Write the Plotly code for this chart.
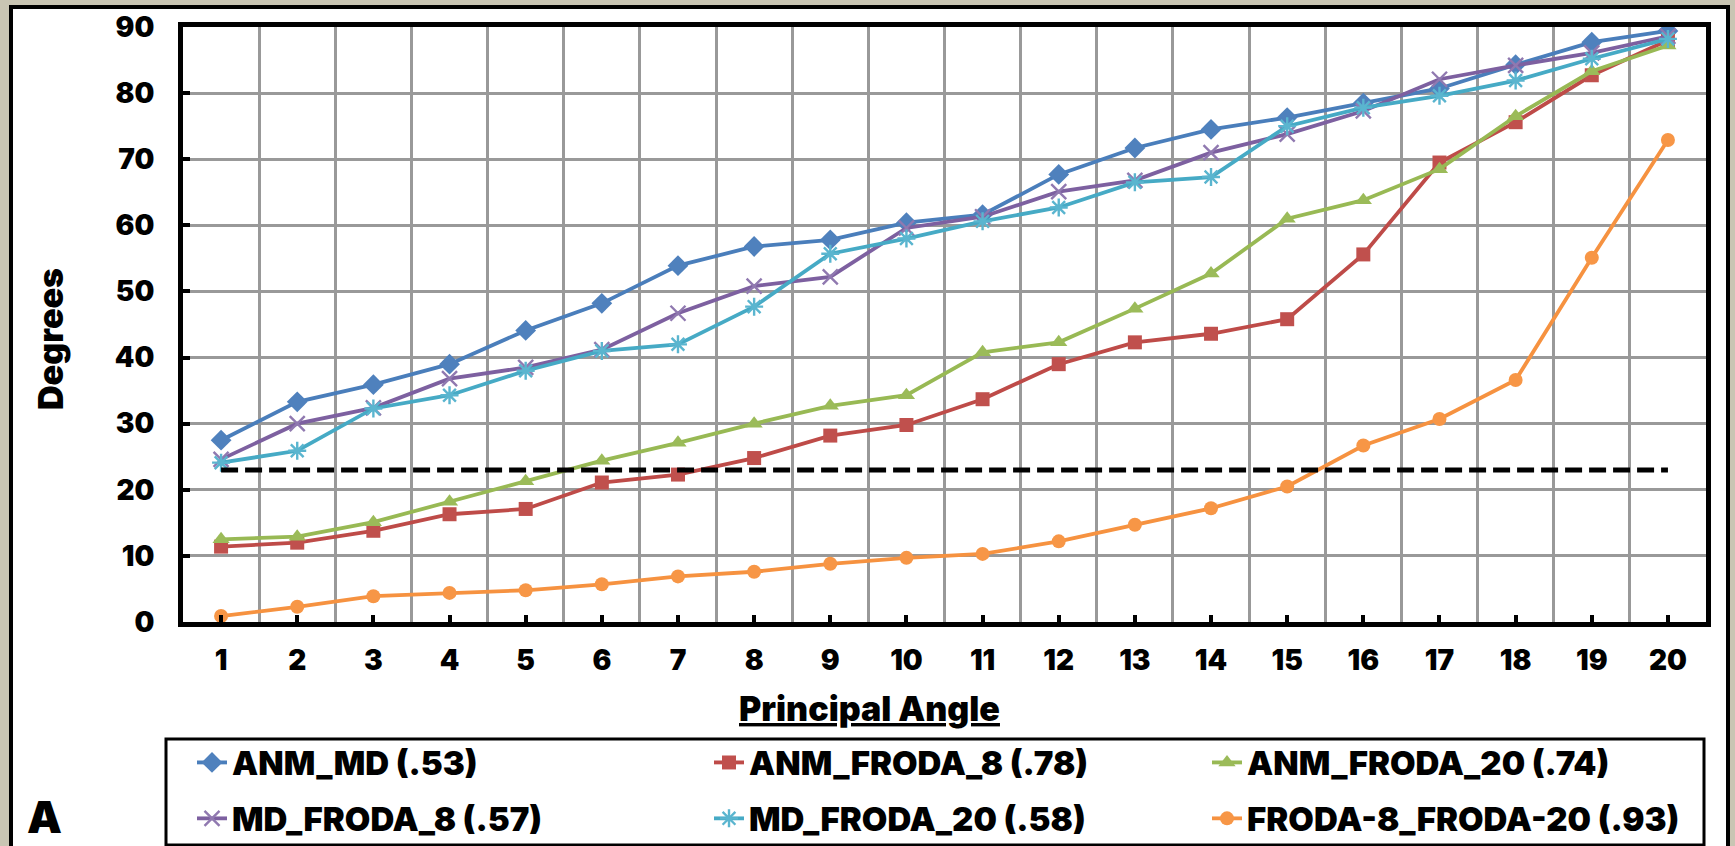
import plotly.graph_objects as go

# ---- data ----
angles = list(range(1, 21))
anm_md = [27.5, 33.3, 35.9, 39.0, 44.1, 48.2, 53.9, 56.8, 57.8, 60.4,
          61.6, 67.7, 71.7, 74.5, 76.3, 78.5, 80.7, 84.3, 87.7, 89.4]
anm_froda_8 = [11.4, 12.0, 13.8, 16.3, 17.1, 21.1, 22.3, 24.8, 28.2, 29.8,
               33.7, 39.0, 42.3, 43.6, 45.8, 55.6, 69.5, 75.6, 82.7, 88.0]
anm_froda_20 = [12.5, 12.9, 15.1, 18.2, 21.3, 24.4, 27.1, 30.0, 32.7, 34.3,
                40.8, 42.3, 47.4, 52.7, 61.0, 63.8, 68.5, 76.5, 83.3, 87.2]
md_froda_8 = [24.6, 30.0, 32.4, 36.8, 38.5, 41.2, 46.7, 50.8, 52.2, 59.6,
              61.3, 65.1, 66.8, 71.0, 73.8, 77.3, 82.1, 84.2, 86.1, 88.6]
md_froda_20 = [24.1, 25.9, 32.3, 34.3, 38.0, 41.0, 42.0, 47.7, 55.7, 58.0,
               60.6, 62.7, 66.5, 67.3, 75.0, 77.8, 79.6, 81.9, 85.2, 88.2]
froda8_froda20 = [0.9, 2.3, 3.9, 4.4, 4.8, 5.7, 6.9, 7.6, 8.8, 9.7,
                  10.3, 12.2, 14.7, 17.2, 20.5, 26.7, 30.7, 36.6, 55.1, 72.9]
threshold = [23.0] * len(angles)
y_ticks = [0, 10, 20, 30, 40, 50, 60, 70, 80, 90]

# ---- page geometry (pixels) ----
W, H = 1735, 846
L, R, T, B = 183, 29, 27, 224
PW, PH = W - L - R, H - T - B


def px(x):
    return (x - L) / PW


def py(y):
    return (H - B - y) / PH


FONT = "Inter, Lato, Roboto, 'Liberation Sans', sans-serif"
BOLD = dict(family=FONT, color="black", weight=900)

# legend column for each series: the legend is laid out as 3 columns x 2 rows
series = [
    ("ANM_MD (.53)", anm_md, "#4a7ebb", "#4f81bd", "diamond", 16, "legend"),
    ("ANM_FRODA_8 (.78)", anm_froda_8, "#be4b48", "#c0504d", "square", 14, "legend2"),
    ("ANM_FRODA_20 (.74)", anm_froda_20, "#98b954", "#9bbb59", "triangle-up", 15, "legend3"),
    ("MD_FRODA_8 (.57)", md_froda_8, "#7d60a0", "#9079b0", "x-thin-open", 15, "legend"),
    ("MD_FRODA_20 (.58)", md_froda_20, "#46aac5", "#5ab5cf", "asterisk-open", 15, "legend2"),
    ("FRODA-8_FRODA-20 (.93)", froda8_froda20, "#f69240", "#f79646", "circle", 14, "legend3"),
]

fig = go.Figure()
for i, (name, vals, lc, mc, sym, size, leg) in enumerate(series):
    open_sym = sym.endswith("open")
    fig.add_trace(go.Scatter(
        x=angles, y=vals, name=name, mode="lines+markers",
        line=dict(color=lc, width=3.8),
        marker=dict(symbol=sym, size=size, color=mc,
                    line=dict(color=mc, width=2.4 if open_sym else 0)),
        legend=leg, legendgroup=f"g{i}",
    ))

# threshold reference line
fig.add_trace(go.Scatter(
    x=angles, y=threshold, mode="lines", showlegend=False,
    line=dict(color="black", width=5, dash="17px,7px"),
))

axis_common = dict(
    showline=True, linecolor="black", linewidth=5, mirror=True,
    ticks="inside", tickcolor="black", tickwidth=4, ticklen=7,
    tickfont=dict(size=28, **BOLD), zeroline=False,
)

fig.update_xaxes(
    range=[0.5, 20.5], tickmode="array", tickvals=angles,
    ticktext=[str(a) for a in angles], showgrid=False,
    ticklabelstandoff=9,
    minor=dict(tick0=0.5, dtick=1, showgrid=True, gridcolor="#999999",
               gridwidth=3, ticks=""),
    **axis_common,
)
fig.update_yaxes(
    range=[0, 90], tickmode="array", tickvals=y_ticks,
    showgrid=True, gridcolor="#999999", gridwidth=3,
    ticklabelstandoff=18,
    **axis_common,
)

legend_common = dict(
    orientation="v", xref="container", yref="container",
    xanchor="left", yanchor="middle", y=1 - 790.5 / H,
    bgcolor="rgba(0,0,0,0)", borderwidth=0, tracegroupgap=10,
    font=dict(size=33, **BOLD), itemwidth=30, traceorder="grouped",
)

fig.update_layout(
    width=W, height=H,
    margin=dict(l=L, r=R, t=T, b=B, pad=0, autoexpand=False),
    paper_bgcolor="#c9c5b3", plot_bgcolor="white",
    showlegend=True,
    legend=dict(x=192 / W, **legend_common),
    legend2=dict(x=709 / W, **legend_common),
    legend3=dict(x=1207 / W, **legend_common),
    shapes=[
        # white panel with heavy frame
        dict(type="rect", xref="paper", yref="paper", layer="below",
             x0=px(11), x1=px(1728), y0=py(880), y1=py(7),
             line=dict(color="black", width=4), fillcolor="white"),
        # legend box
        dict(type="rect", xref="paper", yref="paper", layer="below",
             x0=px(166), x1=px(1704), y0=py(845), y1=py(739),
             line=dict(color="black", width=3), fillcolor="white"),
    ],
    annotations=[
        dict(text="Degrees", xref="paper", yref="paper", x=px(50), y=py(339),
             xanchor="center", yanchor="middle",
             showarrow=False, textangle=-90, font=dict(size=34, **BOLD)),
        dict(text="<u>Principal Angle</u>", xref="paper", yref="paper",
             x=px(869), y=py(708), xanchor="center", yanchor="middle",
             showarrow=False, font=dict(size=34, **BOLD)),
        dict(text="A", xref="paper", yref="paper", x=px(44), y=py(846),
             xanchor="center", yanchor="bottom",
             showarrow=False, font=dict(size=44, **BOLD)),
    ],
)

fig.write_html("out.html")
